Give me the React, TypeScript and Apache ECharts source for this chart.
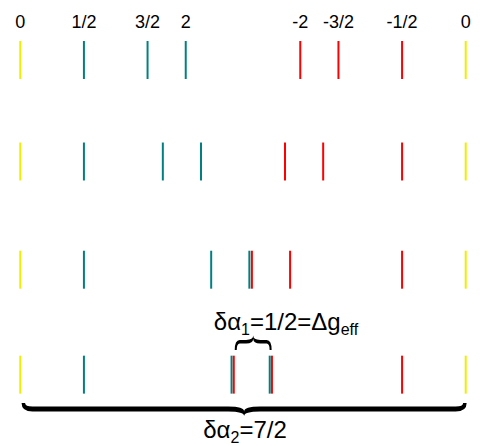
import React, { useEffect, useRef } from "react";
import * as echarts from "echarts";

// ---- data ----
const rowLevels = [0, 1, 2.066, 3.1];
const yellowMarks = [0, 7];
const tealMarks = [
  [1, 2.0, 2.6],
  [1, 2.24, 2.84],
  [1, 3.0, 3.6],
  [1, 3.32, 3.92],
];
const redMarks = [
  [4.4, 5.0, 6.0],
  [4.16, 4.76, 6.0],
  [3.64, 4.24, 6.0],
  [3.355, 3.955, 6.0],
];
const topLabels = ["0", "1/2", "3/2", "2", "-2", "-3/2", "-1/2", "0"];
const topLabelPositions = [0, 1, 2, 2.6, 4.4, 5, 6, 7];
const labelLevel = -0.374;
// braces: x1, x2, end level, direction (-1 = tip up, 1 = tip down)
const braceSpans = [
  [3.37, 3.95, 2.857, -1],
  [0.02, 7.015, 3.38, 1],
];
const annotationTexts = ["δα{s|1}=1/2=Δg{s|eff}", "δα{s|2}=7/2"];

// ---- styles ----
const markColors = ["#eeee00", "#008080", "#ff0000"];
const halfLen = 0.187;
const FONT = "'Liberation Sans', Arial, Helvetica, sans-serif";
const braceShapes = [
  { w: 14.5, b: 8.3, t: 3.6, r: 5, rt: 7, e: 2 },
  { w: 13, b: 6.0, t: 5.0, r: 11, rt: 16, e: 3.5 },
];

function bracePath(xa: number, xb: number, y0: number, s: number, sh: any) {
  const { w, b, t, r, rt, e } = sh;
  const xm = (xa + xb) / 2;
  const yo = y0 + s * (b + t / 2);
  const yi = y0 + s * (b - t / 2);
  const yt = y0 + s * w;
  const yti = yt - s * t * 0.9;
  const f = (n: number) => n.toFixed(2);
  let d = `M ${f(xa)} ${f(y0)}`;
  d += ` Q ${f(xa)} ${f(yo)} ${f(xa + r)} ${f(yo)}`;
  d += ` L ${f(xm - rt)} ${f(yo)}`;
  d += ` Q ${f(xm)} ${f(yo)} ${f(xm)} ${f(yt)}`;
  d += ` Q ${f(xm)} ${f(yo)} ${f(xm + rt)} ${f(yo)}`;
  d += ` L ${f(xb - r)} ${f(yo)}`;
  d += ` Q ${f(xb)} ${f(yo)} ${f(xb)} ${f(y0)}`;
  d += ` L ${f(xb - e)} ${f(y0)}`;
  d += ` Q ${f(xb - e)} ${f(yi)} ${f(xb - r)} ${f(yi)}`;
  d += ` L ${f(xm + rt)} ${f(yi)}`;
  d += ` Q ${f(xm)} ${f(yi)} ${f(xm)} ${f(yti)}`;
  d += ` Q ${f(xm)} ${f(yi)} ${f(xm - rt)} ${f(yi)}`;
  d += ` L ${f(xa + r)} ${f(yi)}`;
  d += ` Q ${f(xa + e)} ${f(yi)} ${f(xa + e)} ${f(y0)}`;
  d += " Z";
  return d;
}

export default function App() {
  const ref = useRef<HTMLDivElement>(null);
  useEffect(() => {
    if (!ref.current) return;
    const chart = echarts.init(ref.current, null, { renderer: "svg" });

    const marks: number[][] = [];
    rowLevels.forEach((lv) => yellowMarks.forEach((x) => marks.push([x, lv, 0])));
    rowLevels.forEach((lv, i) => tealMarks[i].forEach((x) => marks.push([x, lv, 1])));
    rowLevels.forEach((lv, i) => redMarks[i].forEach((x) => marks.push([x, lv, 2])));

    const labelData = topLabelPositions.map((x, i) => [x, labelLevel, i]);

    const subRich = {
      s: { fontSize: 16, fontFamily: FONT, color: "#000", padding: [16, 0, 0, 0] },
    };

    chart.setOption({
      animation: false,
      backgroundColor: "#ffffff",
      grid: { left: 20.3, width: 445.4, top: 9.25, height: 416.15 },
      xAxis: { type: "value", min: 0, max: 7, show: false },
      yAxis: { type: "value", min: -0.5, max: 3.6, inverse: true, show: false },
      series: [
        {
          type: "custom",
          clip: false,
          data: marks,
          encode: { x: 0, y: 1 },
          renderItem: (params: any, api: any) => {
            const x = api.value(0);
            const lv = api.value(1);
            const ci = api.value(2);
            const p1 = api.coord([x, lv - halfLen]);
            const p2 = api.coord([x, lv + halfLen]);
            return {
              type: "line",
              shape: { x1: p1[0], y1: p1[1], x2: p2[0], y2: p2[1] },
              style: { stroke: markColors[ci], lineWidth: 2 },
            };
          },
        },
        {
          type: "custom",
          clip: false,
          data: labelData,
          encode: { x: 0, y: 1 },
          renderItem: (params: any, api: any) => {
            const p = api.coord([api.value(0), api.value(1)]);
            return {
              type: "text",
              x: p[0],
              y: p[1],
              style: {
                text: topLabels[api.value(2)],
                fontSize: 18,
                fontFamily: FONT,
                fill: "#000",
                align: "center",
                verticalAlign: "middle",
              },
            };
          },
        },
        {
          type: "custom",
          clip: false,
          data: braceSpans,
          encode: { x: 0, y: 2 },
          renderItem: (params: any, api: any) => {
            const idx = params.dataIndex;
            const s = braceSpans[idx];
            const p1 = api.coord([s[0], s[2]]);
            const p2 = api.coord([s[1], s[2]]);
            return {
              type: "path",
              shape: { pathData: bracePath(p1[0], p2[0], p1[1], s[3], braceShapes[idx]) },
              style: { fill: "#000" },
            };
          },
        },
      ],
      graphic: [
        {
          type: "text",
          x: 286,
          y: 321,
          style: {
            text: annotationTexts[0],
            fontSize: 24,
            fontFamily: FONT,
            fill: "#000",
            align: "center",
            verticalAlign: "middle",
            rich: subRich,
          },
        },
        {
          type: "text",
          x: 245,
          y: 429,
          style: {
            text: annotationTexts[1],
            fontSize: 24,
            fontFamily: FONT,
            fill: "#000",
            align: "center",
            verticalAlign: "middle",
            rich: subRich,
          },
        },
      ],
    });
    return () => chart.dispose();
  }, []);
  return (
    <div
      ref={ref}
      style={{ position: "fixed", left: 0, top: 0, width: 482, height: 446, background: "#fff" }}
    />
  );
}
